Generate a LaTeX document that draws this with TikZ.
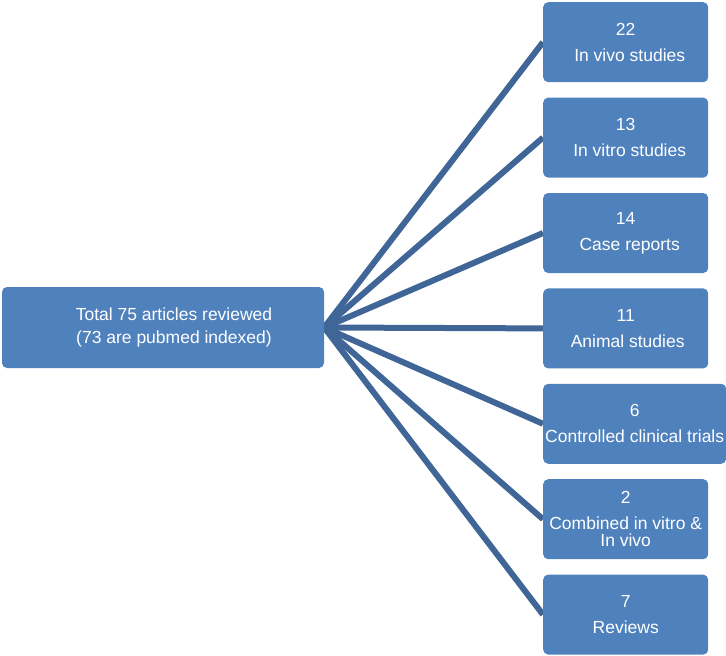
\documentclass[tikz,border=0pt]{standalone}
\usepackage{fontspec}
\setmainfont{Liberation Sans}
\usetikzlibrary{positioning,backgrounds}
\definecolor{boxblue}{RGB}{79,129,189}
\definecolor{linkblue}{RGB}{64,102,152}

\begin{document}
\begin{tikzpicture}[x=1pt,y=-1pt,
    box/.style={fill=boxblue, rounded corners=5pt, inner sep=0pt,
      minimum width=165pt, minimum height=80pt, text=white, align=center,
      font=\fontsize{17.5pt}{26pt}\selectfont},
    link/.style={draw=linkblue, line width=6pt}]
  \useasboundingbox (0,0) rectangle (726,656);

  \node[box, minimum width=322pt, minimum height=81pt,
    font=\fontsize{17.5pt}{23pt}\selectfont] (t) at (163,327.5)
    {\hspace*{22pt}Total 75 articles reviewed\\\hspace*{22pt}(73 are pubmed indexed)};

  \node[box, anchor=north west] (r1) at (543,2) {22\\\hspace*{8pt}In vivo studies};
  \node[box, below=15pt of r1.south west, anchor=north west] (r2) {13\\\hspace*{8pt}In vitro studies};
  \node[box, below=15pt of r2.south west, anchor=north west] (r3) {14\\\hspace*{8pt}Case reports};
  \node[box, below=15pt of r3.south west, anchor=north west] (r4) {11\\\hspace*{4pt}Animal studies};
  \node[box, below=15pt of r4.south west, anchor=north west,
    minimum width=183pt] (r5) {6\\Controlled clinical trials};
  \node[box, below=15pt of r5.south west, anchor=north west] (r6)
    {2\\Combined in vitro \&\\[-9pt]In vivo};
  \node[box, below=15pt of r6.south west, anchor=north west] (r7) {7\\Reviews};

  \begin{scope}[on background layer]
    \foreach \i in {1,...,7}
      \draw[link] (t.east) -- (r\i.west);
  \end{scope}
\end{tikzpicture}
\end{document}
